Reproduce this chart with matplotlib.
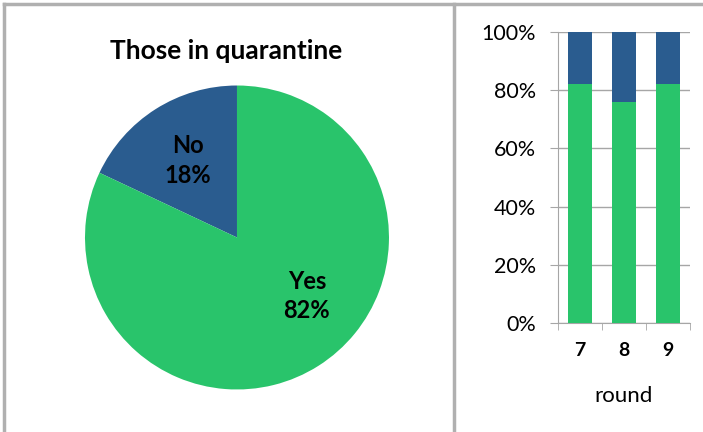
import matplotlib
matplotlib.use('Agg')
import matplotlib.pyplot as plt
import numpy as np
from matplotlib.lines import Line2D

plt.rcParams['font.family'] = ['Lato', 'DejaVu Sans']

# pie data
pie_labels = ['No', 'Yes']
pie_values = [18, 82]

# stacked bars by round
rounds = ['7', '8', '9']
yes_share = [82, 76, 82]
no_share = [18, 24, 18]

green = '#29C46B'
blue = '#2A5C8F'
grid_col = '#A6A6A6'

fig = plt.figure(figsize=(7.03, 4.32), dpi=100)

# panel borders
fig.add_artist(Line2D([0.006, 0.006], [0, 0.99], color='#B0B0B0', lw=2.5))
fig.add_artist(Line2D([0.006, 1.0], [0.99, 0.99], color='#B0B0B0', lw=2.5))
fig.add_artist(Line2D([0.646, 0.646], [0, 0.99], color='#B0B0B0', lw=2.5))

# pie
ax1 = fig.add_axes([0.1209, 0.0984, 0.4324, 0.7037])
wedges, texts, autotexts = ax1.pie(pie_values, colors=[blue, green], startangle=90,
                                   counterclock=True, autopct='%d%%', pctdistance=0.6,
                                   wedgeprops=dict(linewidth=0))
for lab, t, v in zip(pie_labels, autotexts, pie_values):
    t.set_text('%s\n%d%%' % (lab, v))
    t.set_fontsize(17)
    t.set_fontweight('bold')
    t.set_color('black')
    t.set_linespacing(1.35)
# Excel puts the Yes label a bit higher than the wedge middle
ang = np.deg2rad(-40)
autotexts[1].set_position((0.6 * np.cos(ang), 0.6 * np.sin(ang)))
ax1.set_xlim(-1, 1)
ax1.set_ylim(-1, 1)
ax1.set_aspect('equal')
fig.text(0.322, 0.882, 'Those in quarantine', ha='center', va='center',
         fontsize=19, fontweight='bold')

# stacked bars
ax2 = fig.add_axes([0.7937, 0.2523, 0.1878, 0.6736])
x = np.arange(len(rounds))
ax2.bar(x, yes_share, width=0.56, color=green, zorder=3)
ax2.bar(x, no_share, width=0.56, bottom=yes_share, color=blue, zorder=3)
ax2.set_xlim(-0.5, 2.5)
ax2.set_ylim(0, 100)
ax2.set_yticks([0, 20, 40, 60, 80, 100])
ax2.set_yticklabels(['0%', '20%', '40%', '60%', '80%', '100%'], fontsize=15.5)
ax2.set_xticks(x)
ax2.set_xticklabels(rounds, fontsize=14, fontweight='bold')
ax2.set_xticks([-0.5, 0.5, 1.5, 2.5], minor=True)
ax2.tick_params(axis='x', which='major', length=0, pad=14)
ax2.tick_params(axis='x', which='minor', length=5, color=grid_col, direction='out')
ax2.tick_params(axis='y', length=6, color=grid_col, pad=10)
ax2.yaxis.grid(True, color=grid_col, lw=1, zorder=0)
for s in ['top', 'right']:
    ax2.spines[s].set_visible(False)
for s in ['left', 'bottom']:
    ax2.spines[s].set_color(grid_col)
ax2.set_xlabel('round', fontsize=16, labelpad=19)

fig.savefig('out.png', dpi=100)
